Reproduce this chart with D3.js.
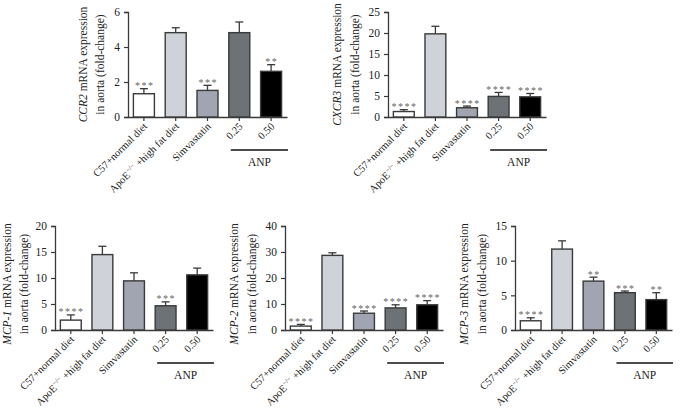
<!DOCTYPE html>
<html><head><meta charset="utf-8">
<script src="https://cdn.jsdelivr.net/npm/d3@7"></script>
<style>
body{margin:0;background:#fff;}
svg{display:block;font-family:"Liberation Serif","Times New Roman",serif;}
</style></head>
<body><svg id="c" width="682" height="416"></svg>
<script>
const categories = ["C57+normal diet", "ApoE", "Simvastatin", "0.25", "0.50"];
const genes = ["CCR2", "CXCR3", "MCP-1", "MCP-2", "MCP-3"];
const ccr2Mean = [1.33, 4.82, 1.52, 4.82, 2.61];
const ccr2Err = [0.29, 0.28, 0.29, 0.61, 0.38];
const cxcr3Mean = [1.3, 19.8, 2.2, 4.9, 4.8];
const cxcr3Err = [0.45, 1.8, 0.4, 0.95, 0.8];
const mcp1Mean = [1.9, 14.5, 9.45, 4.66, 10.6];
const mcp1Err = [1.0, 1.6, 1.55, 0.75, 1.3];
const mcp2Mean = [1.5, 28.7, 6.45, 8.5, 9.7];
const mcp2Err = [0.65, 1.0, 0.85, 1.2, 1.6];
const mcp3Mean = [1.33, 11.67, 7.05, 5.38, 4.38];
const mcp3Err = [0.43, 1.19, 0.57, 0.24, 1.0];
const ccr2Stars = ["***", "", "***", "", "**"];
const cxcr3Stars = ["****", "", "****", "****", "****"];
const mcp1Stars = ["****", "", "", "***", ""];
const mcp2Stars = ["****", "", "****", "****", "****"];
const mcp3Stars = ["****", "", "**", "***", "**"];
const yMaxes = [6, 25, 20, 40, 15];
const yTickSteps = [2, 5, 5, 10, 5];
const groupLabel = "ANP";

const barColors = ["#ffffff", "#d0d2d9", "#a0a5b1", "#6c7276", "#000000"];

const panelData = [
  {gene: genes[0], mean: ccr2Mean, err: ccr2Err, stars: ccr2Stars},
  {gene: genes[1], mean: cxcr3Mean, err: cxcr3Err, stars: cxcr3Stars},
  {gene: genes[2], mean: mcp1Mean, err: mcp1Err, stars: mcp1Stars},
  {gene: genes[3], mean: mcp2Mean, err: mcp2Err, stars: mcp2Stars},
  {gene: genes[4], mean: mcp3Mean, err: mcp3Err, stars: mcp3Stars}
];
const layout = [
  {x0: 128, x1: 287, y0: 12, y1: 117, t1: -41, t2: -24},
  {x0: 388, x1: 546, y0: 12, y1: 117, t1: -47, t2: -29},
  {x0: 55, x1: 213, y0: 226, y1: 330, t1: -44, t2: -27},
  {x0: 285, x1: 443, y0: 226, y1: 330, t1: -47, t2: -29},
  {x0: 515, x1: 672, y0: 226, y1: 330, t1: -47, t2: -29}
];

const svg = d3.select("#c");
const stroke = "#3a3a3a";

panelData.forEach((p, i) => {
  const L = layout[i];
  const g = svg.append("g");
  const x = d3.scaleBand().domain(d3.range(5)).range([L.x0, L.x1]).paddingInner(0.34).paddingOuter(0.17);
  const y = d3.scaleLinear().domain([0, yMaxes[i]]).range([L.y1, L.y0]);
  const ticks = d3.range(0, yMaxes[i] + 0.001, yTickSteps[i]);

  const ya = g.append("g").attr("transform", `translate(${L.x0},0)`)
    .call(d3.axisLeft(y).tickValues(ticks).tickSize(4).tickPadding(4).tickFormat(d3.format("d")));
  ya.attr("font-family", null).attr("font-size", null);
  ya.select(".domain").attr("stroke", stroke).attr("stroke-width", 1.3);
  ya.selectAll(".tick line").attr("stroke", stroke).attr("stroke-width", 1.2);
  ya.selectAll("text").attr("font-family", "Liberation Serif").attr("font-size", 11.5).attr("fill", "#222");

  const xa = g.append("g").attr("transform", `translate(0,${L.y1})`)
    .call(d3.axisBottom(x).tickSize(4).tickSizeOuter(0).tickFormat(""));
  xa.select(".domain").attr("stroke", stroke).attr("stroke-width", 1.3);
  xa.selectAll(".tick line").attr("stroke", stroke).attr("stroke-width", 1.2);

  g.selectAll("rect.bar").data(p.mean).join("rect")
    .attr("x", (d, k) => x(k)).attr("width", x.bandwidth())
    .attr("y", d => y(d)).attr("height", d => y(0) - y(d))
    .attr("fill", (d, k) => barColors[k]).attr("stroke", stroke).attr("stroke-width", 1.4);

  p.mean.forEach((m, k) => {
    const cx = x(k) + x.bandwidth() / 2;
    const top = y(m + p.err[k]);
    g.append("line").attr("x1", cx).attr("x2", cx).attr("y1", y(m)).attr("y2", top)
      .attr("stroke", stroke).attr("stroke-width", 1.3);
    g.append("line").attr("x1", cx - 4).attr("x2", cx + 4).attr("y1", top).attr("y2", top)
      .attr("stroke", stroke).attr("stroke-width", 1.3);
    if (p.stars[k]) {
      g.append("text").attr("x", cx + 0.75).attr("y", top + 0.5).attr("text-anchor", "middle")
        .attr("font-size", 10).attr("fill", "#666").attr("letter-spacing", 1.5)
        .text(p.stars[k]);
    }
  });

  categories.forEach((c, k) => {
    const cx = x(k) + x.bandwidth() / 2;
    const t = g.append("text").attr("text-anchor", "end").attr("font-size", 10.5).attr("fill", "#222")
      .attr("transform", `translate(${cx + 4},${L.y1 + 10}) rotate(-45)`);
    if (k === 1) {
      t.append("tspan").text("ApoE");
      t.append("tspan").attr("font-size", 7).attr("dy", -4).text("−/−");
      t.append("tspan").attr("dy", 4).text(" +high fat diet");
    } else {
      t.text(c);
    }
  });

  const gx0 = x(3) + 2, gx1 = L.x1 + 1;
  g.append("line").attr("x1", gx0).attr("x2", gx1).attr("y1", L.y1 + 33).attr("y2", L.y1 + 33)
    .attr("stroke", "#111").attr("stroke-width", 1.3);
  g.append("text").attr("x", (gx0 + gx1) / 2).attr("y", L.y1 + 49).attr("text-anchor", "middle")
    .attr("font-size", 11.5).attr("fill", "#222").text(groupLabel);

  const cy = (L.y0 + L.y1) / 2 + (i >= 2 ? 6 : 0);
  const t1 = g.append("text").attr("text-anchor", "middle").attr("font-size", 11.5).attr("fill", "#222")
    .attr("transform", `translate(${L.x0 + L.t1},${cy}) rotate(-90)`);
  t1.append("tspan").attr("font-style", "italic").text(p.gene);
  t1.append("tspan").text(" mRNA expression");
  g.append("text").attr("text-anchor", "middle").attr("font-size", 11.5).attr("fill", "#222")
    .attr("transform", `translate(${L.x0 + L.t2},${cy}) rotate(-90)`)
    .text("in aorta (fold-change)");
});
</script></body></html>
